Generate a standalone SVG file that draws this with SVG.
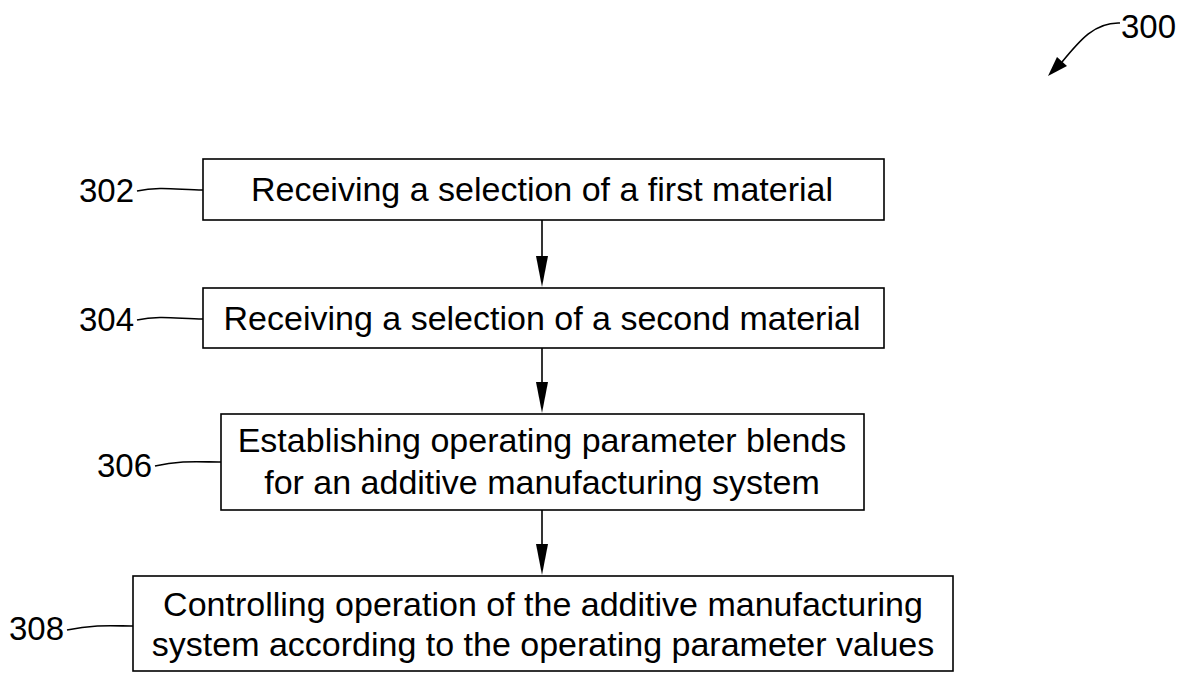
<svg xmlns="http://www.w3.org/2000/svg" width="1193" height="679" viewBox="0 0 1193 679">
<style>
.box{fill:#fff;stroke:#000;stroke-width:1.6}
.t{font-family:"Liberation Sans",Arial,sans-serif;font-size:34px;fill:#000;text-anchor:middle}
.lbl{font-family:"Liberation Sans",Arial,sans-serif;font-size:33px;fill:#000}
.ld{fill:none;stroke:#000;stroke-width:1.6}
.c{fill:none;stroke:#000;stroke-width:1.6}
</style>
<rect width="1193" height="679" fill="#fff"/>
<g id="ref300">
<text class="lbl" x="1121" y="38">300</text>
<path class="ld" d="M1120,23 C1095,22 1080,40 1062,62"/>
<path d="M1048,76 L1057,57 L1067,66 Z" fill="#000"/>
</g>
<g id="n302">
<rect class="box" x="203" y="159" width="681" height="61"/>
<text class="t" x="542" y="201">Receiving a selection of a first material</text>
<text class="lbl" x="79" y="202">302</text>
<path class="ld" d="M137,191 C160,186 180,190 203,190"/>
</g>
<g id="n304">
<rect class="box" x="203" y="288" width="681" height="60"/>
<text class="t" x="542" y="330">Receiving a selection of a second material</text>
<text class="lbl" x="79" y="331">304</text>
<path class="ld" d="M137,320 C160,315 180,319 203,319"/>
</g>
<g id="n306">
<rect class="box" x="221" y="414" width="643" height="96"/>
<text class="t" x="542" y="452">Establishing operating parameter blends</text>
<text class="t" x="542" y="494">for an additive manufacturing system</text>
<text class="lbl" x="97" y="477">306</text>
<path class="ld" d="M155,466 C180,460 200,462 221,462"/>
</g>
<g id="n308">
<rect class="box" x="133" y="576" width="820" height="95"/>
<text class="t" x="543" y="616">Controlling operation of the additive manufacturing</text>
<text class="t" x="543" y="656">system according to the operating parameter values</text>
<text class="lbl" x="9" y="640">308</text>
<path class="ld" d="M67,630 C95,624 115,626 133,626"/>
</g>
<g id="connectors">
<path class="c" d="M542,220 V258"/>
<path d="M536,256 L548,256 L542,287 Z" fill="#000"/>
<path class="c" d="M542,348 V384"/>
<path d="M536,382 L548,382 L542,413 Z" fill="#000"/>
<path class="c" d="M542,510 V545"/>
<path d="M536,544 L548,544 L542,575 Z" fill="#000"/>
</g>
</svg>
